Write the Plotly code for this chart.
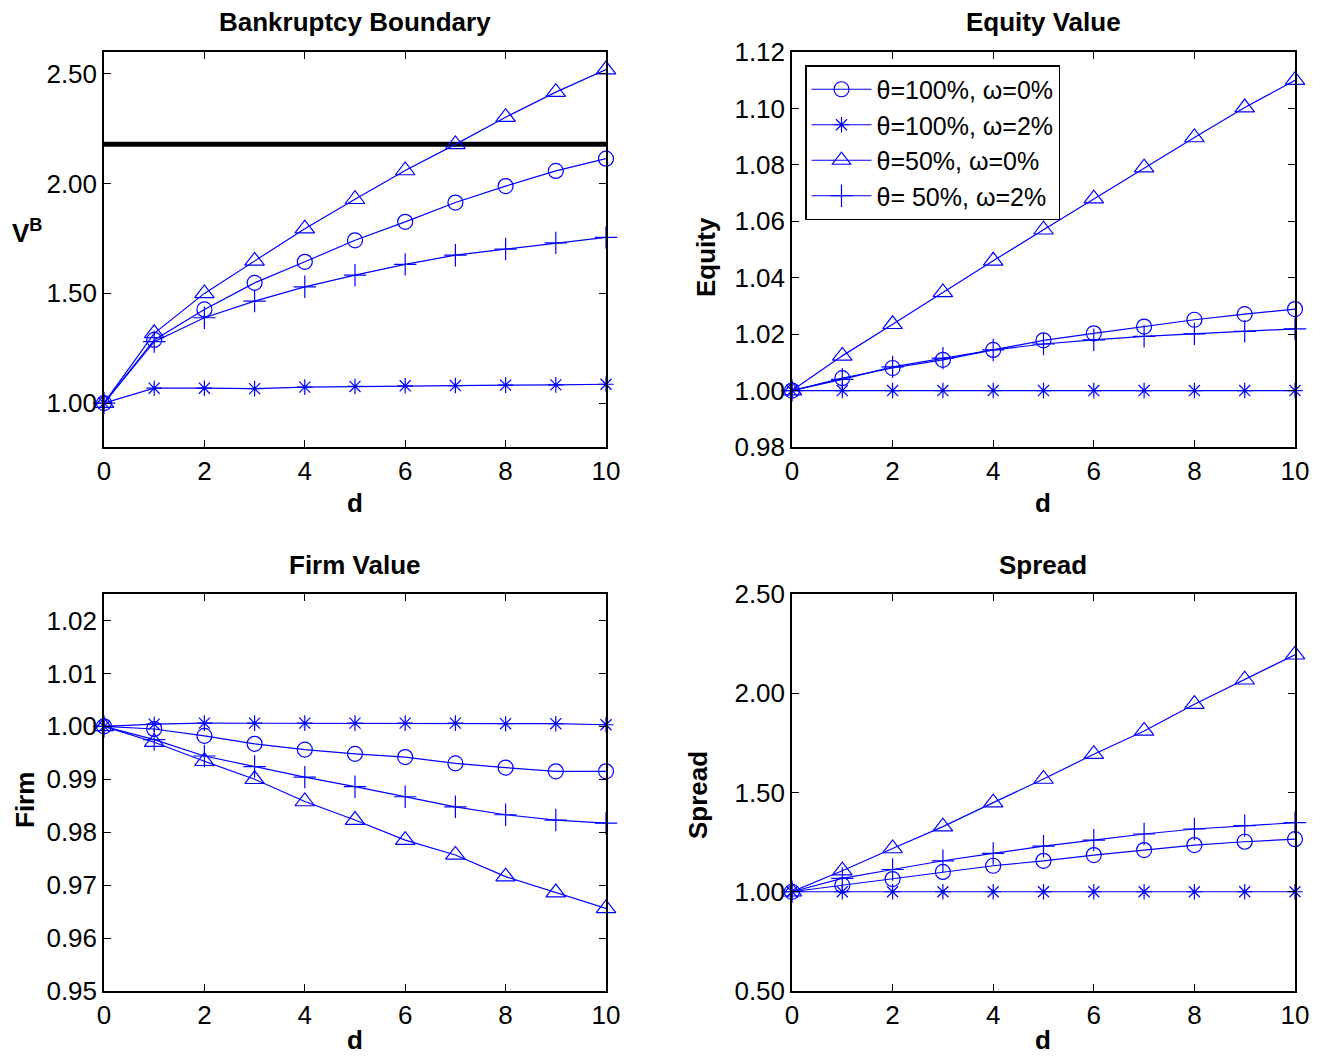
import plotly.graph_objects as go

# ---------------- data ----------------
d = [0, 1, 2, 3, 4, 5, 6, 7, 8, 9, 10]
series_names = ["θ=100%, ω=0%", "θ=100%, ω=2%", "θ=50%, ω=0%", "θ= 50%, ω=2%"]

# Bankruptcy boundary V^B
vb_t100_w0 = [1.00, 1.288, 1.427, 1.548, 1.644, 1.742, 1.826, 1.914, 1.989, 2.058, 2.114]
vb_t100_w2 = [1.00, 1.068, 1.068, 1.066, 1.073, 1.076, 1.079, 1.080, 1.082, 1.083, 1.086]
vb_t50_w0 = [1.00, 1.318, 1.500, 1.648, 1.795, 1.929, 2.060, 2.179, 2.303, 2.417, 2.520]
vb_t50_w2 = [1.00, 1.280, 1.389, 1.465, 1.530, 1.583, 1.632, 1.674, 1.702, 1.730, 1.755]
vb_reference = 2.18

# Equity value
eq_t100_w0 = [1.000, 1.0044, 1.0080, 1.0109, 1.0144, 1.0178, 1.0203, 1.0227, 1.0251, 1.0271, 1.0289]
eq_t100_w2 = [1.000, 1.0000, 1.0000, 1.0000, 1.0000, 1.0000, 1.0000, 1.0000, 1.0000, 1.0000, 1.0000]
eq_t50_w0 = [1.000, 1.0123, 1.0235, 1.0348, 1.0460, 1.0570, 1.0680, 1.0790, 1.0897, 1.1003, 1.1100]
eq_t50_w2 = [1.000, 1.0040, 1.0084, 1.0115, 1.0144, 1.0165, 1.0180, 1.0192, 1.0201, 1.0210, 1.0219]

# Firm value
fv_t100_w0 = [1.000, 0.9995, 0.9982, 0.9967, 0.9956, 0.9948, 0.9942, 0.9930, 0.9922, 0.9915, 0.9915]
fv_t100_w2 = [1.000, 1.0004, 1.0006, 1.0006, 1.0006, 1.0006, 1.0006, 1.0006, 1.0005, 1.0005, 1.0003]
fv_t50_w0 = [1.000, 0.9970, 0.9934, 0.9900, 0.9858, 0.9823, 0.9785, 0.9757, 0.9716, 0.9686, 0.9656]
fv_t50_w2 = [1.000, 0.9975, 0.9944, 0.9924, 0.9904, 0.9886, 0.9867, 0.9848, 0.9833, 0.9823, 0.9817]

# Spread
sp_t100_w0 = [1.00, 1.033, 1.064, 1.100, 1.131, 1.156, 1.185, 1.210, 1.235, 1.252, 1.265]
sp_t100_w2 = [1.00, 1.000, 1.000, 1.000, 1.000, 1.000, 1.000, 1.000, 1.000, 1.000, 1.000]
sp_t50_w0 = [1.00, 1.106, 1.218, 1.328, 1.449, 1.568, 1.693, 1.810, 1.945, 2.068, 2.194]
sp_t50_w2 = [1.00, 1.067, 1.112, 1.156, 1.193, 1.230, 1.260, 1.291, 1.316, 1.333, 1.348]

panel_titles = ["Bankruptcy Boundary", "Equity Value", "Firm Value", "Spread"]
x_ticks = [0, 2, 4, 6, 8, 10]
vb_ticks = [1.00, 1.50, 2.00, 2.50]
eq_ticks = [0.98, 1.00, 1.02, 1.04, 1.06, 1.08, 1.10, 1.12]
fv_ticks = [0.95, 0.96, 0.97, 0.98, 0.99, 1.00, 1.01, 1.02]
sp_ticks = [0.50, 1.00, 1.50, 2.00, 2.50]

# ---------------- figure ----------------
# page body has an 8px margin: the figure starts 8px in from the window's top-left
OFF = 8
W, H = 1322 - 2 * OFF, 1059 - OFF
FONT = "Liberation Sans, Arial, Helvetica, sans-serif"
BLUE = "rgb(0,0,255)"
symbols = ["circle-open", "asterisk-open", "triangle-up-open", "cross-thin-open"]
sizes = [15, 13, 17, 16]

fig = go.Figure()

panels = [
    ("x", "y", [vb_t100_w0, vb_t100_w2, vb_t50_w0, vb_t50_w2]),
    ("x2", "y2", [eq_t100_w0, eq_t100_w2, eq_t50_w0, eq_t50_w2]),
    ("x3", "y3", [fv_t100_w0, fv_t100_w2, fv_t50_w0, fv_t50_w2]),
    ("x4", "y4", [sp_t100_w0, sp_t100_w2, sp_t50_w0, sp_t50_w2]),
]

# reference line in bankruptcy panel
fig.add_trace(go.Scatter(x=[d[0], d[-1]], y=[vb_reference, vb_reference], mode="lines",
                         line=dict(color="black", width=5), showlegend=False,
                         xaxis="x", yaxis="y", hoverinfo="skip"))

for xa, ya, ser in panels:
    for i, vals in enumerate(ser):
        fig.add_trace(go.Scatter(
            x=d, y=vals, mode="lines+markers", name=series_names[i],
            line=dict(color=BLUE, width=1.2),
            marker=dict(symbol=symbols[i], size=sizes[i], color=BLUE,
                        line=dict(color=BLUE, width=1.2)),
            showlegend=(xa == "x2"), legendgroup=series_names[i],
            xaxis=xa, yaxis=ya, cliponaxis=False))

def px_x(p):
    return (p - OFF) / W

def px_y(p):
    return 1 - (p - OFF) / H

xdom_l = [px_x(104), px_x(606)]
xdom_r = [px_x(792), px_x(1295)]
ydom_t = [px_y(447), px_y(52)]
ydom_b = [px_y(991), px_y(594)]

axis_common = dict(showline=True, linecolor="black", linewidth=1.5, mirror="ticks",
                   ticks="inside", ticklen=7, tickwidth=1.2, tickcolor="black",
                   showgrid=False, zeroline=False, automargin=False,
                   tickfont=dict(family=FONT, size=26, color="black"))

def xax(dom, anchor):
    return dict(domain=dom, anchor=anchor, range=[0, 10], tickvals=x_ticks, **axis_common)

def yax(dom, anchor, rng, ticks):
    return dict(domain=dom, anchor=anchor, range=rng, tickvals=ticks, tickformat=".2f", **axis_common)

fig.update_layout(
    template="none",
    width=W, height=H,
    margin=dict(l=0, r=0, t=0, b=0, pad=0, autoexpand=False),
    paper_bgcolor="white", plot_bgcolor="white",
    font=dict(family=FONT, size=26, color="black"),
    xaxis=xax(xdom_l, "y"), yaxis=yax(ydom_t, "x", [0.8, 2.6], vb_ticks),
    xaxis2=xax(xdom_r, "y2"), yaxis2=yax(ydom_t, "x2", [0.98, 1.12], eq_ticks),
    xaxis3=xax(xdom_l, "y3"), yaxis3=yax(ydom_b, "x3", [0.95, 1.025], fv_ticks),
    xaxis4=xax(xdom_r, "y4"), yaxis4=yax(ydom_b, "x4", [0.5, 2.5], sp_ticks),
    legend=dict(x=px_x(805), y=px_y(65), xanchor="left", yanchor="top",
                bgcolor="white", bordercolor="black", borderwidth=1.5,
                font=dict(family=FONT, size=25, color="black"),
                tracegroupgap=0, itemwidth=60),
    showlegend=True,
)

annotations = []
# panel titles
for txt, cx, cy in [(panel_titles[0], 355, 22), (panel_titles[1], 1043, 22),
                    (panel_titles[2], 355, 565), (panel_titles[3], 1043, 565)]:
    annotations.append(dict(text=f"<b>{txt}</b>", x=px_x(cx), y=px_y(cy), xref="paper", yref="paper",
                            showarrow=False, xanchor="center", yanchor="middle",
                            font=dict(family=FONT, size=26, color="black")))
# x labels
for cx, cy in [(355, 503), (1043, 503), (355, 1040), (1043, 1040)]:
    annotations.append(dict(text="<b>d</b>", x=px_x(cx), y=px_y(cy), xref="paper", yref="paper",
                            showarrow=False, xanchor="center", yanchor="middle",
                            font=dict(family=FONT, size=26, color="black")))
# y labels
annotations.append(dict(text="<b>V<sup>B</sup></b>", x=px_x(27), y=px_y(232), xref="paper", yref="paper",
                        showarrow=False, xanchor="center", yanchor="middle",
                        font=dict(family=FONT, size=26, color="black")))
for txt, cx, cy in [("Equity", 706, 257), ("Firm", 25, 800), ("Spread", 698, 795)]:
    annotations.append(dict(text=f"<b>{txt}</b>", x=px_x(cx), y=px_y(cy), xref="paper", yref="paper",
                            showarrow=False, xanchor="center", yanchor="middle", textangle=-90,
                            font=dict(family=FONT, size=26, color="black")))
fig.update_layout(annotations=annotations)

fig.write_html("out.html")
